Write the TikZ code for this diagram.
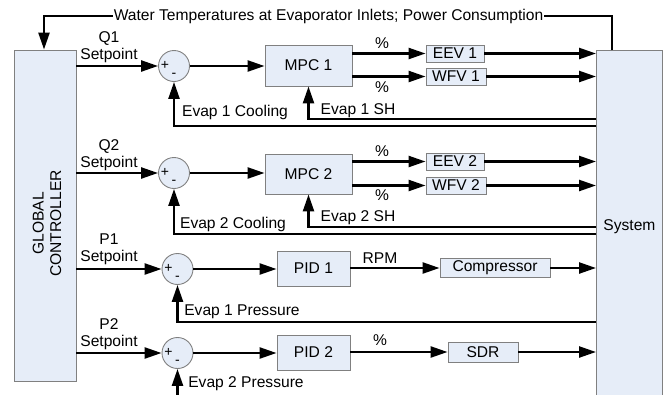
\documentclass[tikz,border=0pt]{standalone}
\usepackage{fontspec}
\setmainfont{Liberation Sans}
\usetikzlibrary{arrows.meta,calc}
\definecolor{boxblue}{HTML}{E6EDF8}
\definecolor{boxedge}{HTML}{808080}
\begin{document}
\begin{tikzpicture}[x=1pt,y=-1pt,
  font=\fontsize{15.6}{17.5}\selectfont,
  boxfill/.style={draw=boxedge, line width=0.9pt, fill=boxblue},
  blk/.style={boxfill, inner sep=0pt},
  sum/.style={circle, boxfill, minimum size=31pt, inner sep=0pt},
  pm/.style={inner sep=0pt, font=\fontsize{14}{14}\selectfont},
  lbl/.style={inner sep=0pt},
  wire/.style={line width=2.4pt},
  arr/.style={wire, -{Triangle[length=17pt,width=11pt]}}]
\useasboundingbox (0,0) rectangle (663,394);

% main blocks
\node[blk, minimum width=62pt, minimum height=331pt] (gc) at (45,215.5) {};
\node[lbl, rotate=90, align=center] (gct) at (47,223.5) {GLOBAL\\CONTROLLER};
\node[blk, minimum width=66pt, minimum height=352pt, anchor=north west] (sys) at (596,50) {System};

% top feedback
\node[fill=white, inner sep=1pt] (wt) at (328.5,16) {Water Temperatures at Evaporator Inlets; Power Consumption};
\coordinate (tr) at (612,16);
\coordinate (tl) at (44,16);
\draw[wire] (sys.north -| tr) |- (wt.east);
\draw[arr] (wt.west) -| (gc.north -| tl);

% ---------- row 1 ----------
\node[sum] (s1) at (174,66) {};
\node[pm] at ($(s1.center)+(-9,-0.5)$) {+};
\node[pm] at ($(s1.center)+(0,9.5)$) {-};
\node[lbl, align=center] (q1) at (109,47) {Q1\\Setpoint};
\node[blk, minimum width=87pt, minimum height=41pt] (mpc1) at (308.5,65.5) {MPC 1};
\node[blk, minimum width=58pt, minimum height=17pt] (eev1) at (455,53.5) {EEV 1};
\node[blk, minimum width=60pt, minimum height=17pt] (wfv1) at (456,76.5) {WFV 1};
\draw[arr] (gc.east |- s1) -- (s1.west);
\draw[arr] (s1.east) -- (s1.east -| mpc1.west);
\draw[arr] (mpc1.east |- eev1) -- (eev1.west);
\draw[arr] (mpc1.east |- wfv1) -- (wfv1.west);
\draw[arr] (eev1.east) -- (sys.west |- eev1);
\draw[arr] (wfv1.east) -- (sys.west |- wfv1);
\node[lbl] (p1a) at (382,43) {\%};
\node[lbl] (p1b) at (382,87) {\%};
\coordinate (y1s) at (0,119);
\coordinate (y1c) at (0,126);
\draw[arr] (sys.west |- y1s) -| (mpc1.south);
\draw[arr] (sys.west |- y1c) -| (s1.south);
\node[lbl] (e1c) at (235,112) {Evap 1 Cooling};
\node[lbl] (e1s) at (358,111) {Evap 1 SH};

% ---------- row 2 ----------
\node[sum] (s2) at (174,173) {};
\node[pm] at ($(s2.center)+(-9,-0.5)$) {+};
\node[pm] at ($(s2.center)+(0,9.5)$) {-};
\node[lbl, align=center] (q2) at (109,155) {Q2\\Setpoint};
\node[blk, minimum width=87pt, minimum height=40pt] (mpc2) at (308.5,174) {MPC 2};
\node[blk, minimum width=58pt, minimum height=17pt] (eev2) at (455,161.5) {EEV 2};
\node[blk, minimum width=60pt, minimum height=17pt] (wfv2) at (456,185.5) {WFV 2};
\draw[arr] (gc.east |- s2) -- (s2.west);
\draw[arr] (s2.east) -- (s2.east -| mpc2.west);
\draw[arr] (mpc2.east |- eev2) -- (eev2.west);
\draw[arr] (mpc2.east |- wfv2) -- (wfv2.west);
\draw[arr] (eev2.east) -- (sys.west |- eev2);
\draw[arr] (wfv2.east) -- (sys.west |- wfv2);
\node[lbl] (p2a) at (382,151) {\%};
\node[lbl] (p2b) at (382,195) {\%};
\coordinate (y2s) at (0,227);
\coordinate (y2c) at (0,234);
\draw[arr] (sys.west |- y2s) -| (mpc2.south);
\draw[arr] (sys.west |- y2c) -| (s2.south);
\node[lbl] (e2c) at (233,224) {Evap 2 Cooling};
\node[lbl] (e2s) at (358,218) {Evap 2 SH};

% ---------- row 3 ----------
\node[sum] (s3) at (177.5,269) {};
\node[pm] at ($(s3.center)+(-9,-0.5)$) {+};
\node[pm] at ($(s3.center)+(0,9.5)$) {-};
\node[lbl, align=center] (q3) at (109,249) {P1\\Setpoint};
\node[blk, minimum width=73pt, minimum height=35pt] (pid1) at (313.5,268.5) {PID 1};
\node[blk, minimum width=110pt, minimum height=19pt] (comp) at (495,268) {Compressor};
\draw[arr] (gc.east |- s3) -- (s3.west);
\draw[arr] (s3.east) -- (s3.east -| pid1.west);
\draw[arr] (pid1.east |- comp) -- (comp.west);
\draw[arr] (comp.east) -- (sys.west |- comp);
\node[lbl] (rpm) at (380,258) {RPM};
\coordinate (y3) at (0,322);
\draw[arr] (sys.west |- y3) -| (s3.south);
\node[lbl] (e1p) at (242,312) {Evap 1 Pressure};

% ---------- row 4 ----------
\node[sum] (s4) at (177.5,353) {};
\node[pm] at ($(s4.center)+(-9,-0.5)$) {+};
\node[pm] at ($(s4.center)+(0,9.5)$) {-};
\node[lbl, align=center] (q4) at (109,334) {P2\\Setpoint};
\node[blk, minimum width=73pt, minimum height=35pt] (pid2) at (313.5,352.5) {PID 2};
\node[blk, minimum width=70pt, minimum height=20pt] (sdr) at (483,352) {SDR};
\draw[arr] (gc.east |- s4) -- (s4.west);
\draw[arr] (s4.east) -- (s4.east -| pid2.west);
\draw[arr] (pid2.east |- sdr) -- (sdr.west);
\draw[arr] (sdr.east) -- (sys.west |- sdr);
\node[lbl] (p4) at (380,340) {\%};
\coordinate (e2pin) at (177.5,396);
\draw[arr] (e2pin) -- (s4.south);
\node[lbl] (e2p) at (246,384) {Evap 2 Pressure};
\end{tikzpicture}
\end{document}
